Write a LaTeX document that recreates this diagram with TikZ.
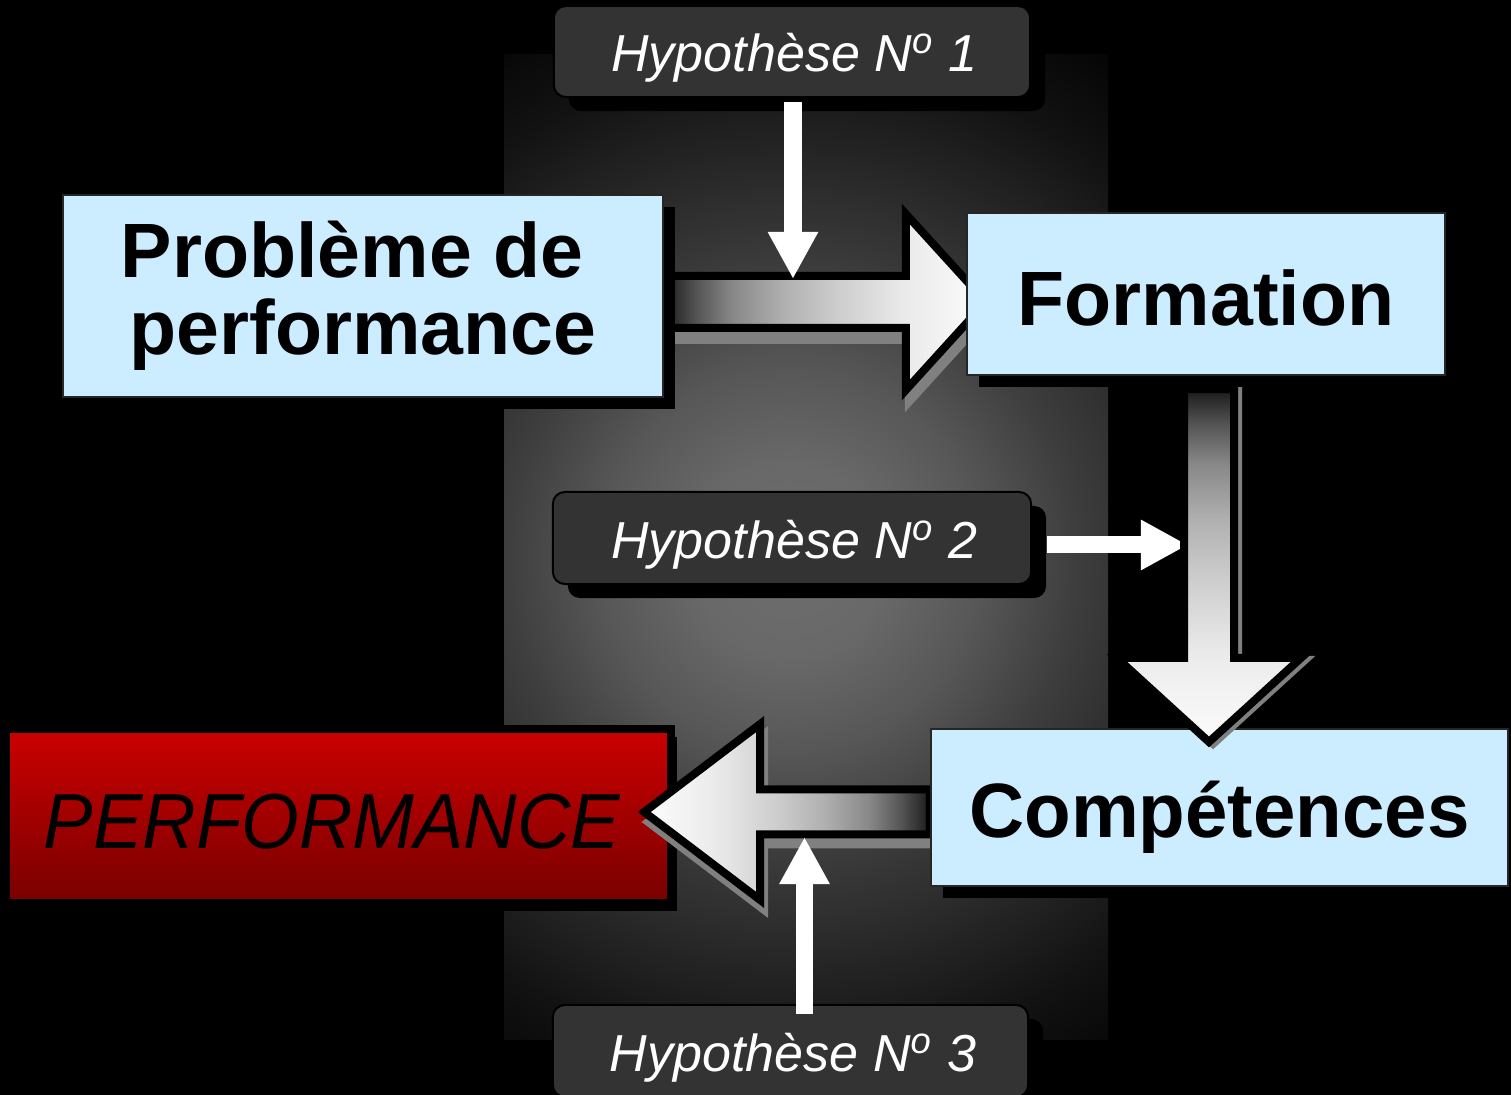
\documentclass[tikz,border=0pt]{standalone}
\usepackage{fontspec}
\setmainfont{Liberation Sans}
\usetikzlibrary{calc,shadows,arrows.meta}

\definecolor{boxblue}{HTML}{CCECFF}
\definecolor{hypgray}{HTML}{333333}
\definecolor{shadowgray}{HTML}{808080}
\definecolor{redtop}{HTML}{CC0000}
\definecolor{redbottom}{HTML}{780000}

\pgfdeclarelayer{panel}
\pgfdeclarelayer{redlayer}
\pgfdeclarelayer{lowarrows}
\pgfdeclarelayer{higharrows}
\pgfsetlayers{panel,redlayer,lowarrows,main,higharrows}

% soft glow of the central panel
\pgfdeclareradialshading{panelglow}{\pgfpoint{0bp}{0bp}}{%
  rgb(0bp)=(.43,.43,.43); rgb(4bp)=(.41,.41,.41); rgb(8bp)=(.34,.34,.34);
  rgb(12bp)=(.24,.24,.24); rgb(16.7bp)=(.15,.15,.15); rgb(21bp)=(.07,.07,.07);
  rgb(25bp)=(.02,.02,.02); rgb(50bp)=(0,0,0)}
% dark-to-white fade inside the block arrows
\pgfdeclarehorizontalshading{arrowfade}{100bp}{%
  rgb(0bp)=(.1,.1,.1); rgb(25bp)=(.1,.1,.1); rgb(30bp)=(.33,.33,.33);
  rgb(35.5bp)=(.53,.53,.53); rgb(43.5bp)=(.69,.69,.69); rgb(51.5bp)=(.8,.8,.8);
  rgb(62.5bp)=(.92,.92,.92); rgb(75bp)=(.99,.99,.99); rgb(100bp)=(.99,.99,.99)}

\newcommand\diagboxfont{\fontsize{0.77cm}{0.77cm}\selectfont\bfseries}
\newcommand\diaghypfont{\fontsize{0.52cm}{0.6cm}\selectfont\itshape}
\newcommand\diagperffont{\fontsize{0.78cm}{0.8cm}\selectfont\itshape}

\begin{document}
\begin{tikzpicture}[x=0.01cm, y=-0.01cm,
  bluebox/.style={draw=black!85, line width=0.02cm, fill=boxblue, inner sep=0pt,
    font=\diagboxfont, text=black,
    drop shadow={shadow xshift=0.12cm, shadow yshift=-0.12cm, fill=black, opacity=1}},
  hypbox/.style={rounded corners=0.12cm, draw=black, line width=0.02cm, fill=hypgray,
    text=white, font=\diaghypfont, inner sep=0pt, text height=0.41cm, text depth=0pt,
    drop shadow={shadow xshift=0.15cm, shadow yshift=-0.14cm, fill=black, opacity=1}},
  redbox/.style={draw=black, line width=0.08cm, top color=redtop, bottom color=redbottom,
    inner sep=0pt, font=\diagperffont, text=black,
    drop shadow={shadow xshift=0.06cm, shadow yshift=-0.08cm, fill=black, opacity=1}},
  bigarrow/.style={draw=black, line width=0.08cm, shade, shading=arrowfade},
  arrowshadow/.style={draw=shadowgray, fill=shadowgray, line width=0.08cm},
  smallarrow/.style={draw=white, line width=0.17cm,
    -{Triangle[width=0.47cm, length=0.47cm]}},
  harrow/.style n args={5}{insert path={
    ($(#1)+(0,{-(#3)})$) -- ($(#2)+({-(#5)},{-(#3)})$) -- ($(#2)+({-(#5)},{-(#4)})$)
    -- (#2) -- ($(#2)+({-(#5)},#4)$) -- ($(#2)+({-(#5)},#3)$) -- ($(#1)+(0,#3)$) -- cycle}},
  varrow/.style n args={5}{insert path={
    ($(#1)+({-(#3)},0)$) -- ($(#2)+({-(#3)},{-(#5)})$) -- ($(#2)+({-(#4)},{-(#5)})$)
    -- (#2) -- ($(#2)+(#4,{-(#5)})$) -- ($(#2)+(#3,{-(#5)})$) -- ($(#1)+(#3,0)$) -- cycle}}
]
\useasboundingbox (0,0) rectangle (1511,1095);

% black ground and the glowing central panel
\begin{pgfonlayer}{panel}
  \fill[black] (0,0) rectangle (1511,1095);
  \begin{scope}
    \clip (504,55) rectangle (1108,1040);
    \shade[shading=panelglow] (790,560) circle (600);
  \end{scope}
\end{pgfonlayer}

% boxes
\begin{pgfonlayer}{redlayer}
  \node[redbox, minimum width=6.65cm, minimum height=1.74cm, text height=0.64cm, text depth=0pt]
    (perf) at (338.5,816) {\scalebox{0.95}[1]{PERFORMANCE}\hspace*{0.13cm}};
\end{pgfonlayer}
\node[bluebox, minimum width=6cm, minimum height=2.02cm, align=center]
  (prob) at (363,296) {Problème de\hspace*{0.22cm}\\performance};
\node[bluebox, minimum width=4.78cm, minimum height=1.62cm, text height=0.62cm, text depth=0pt]
  (form) at (1206,294) {Formation};
\node[bluebox, minimum width=5.77cm, minimum height=1.57cm, text height=0.59cm, text depth=0pt]
  (comp) at (1219.5,807.5) {\scalebox{0.99}[1]{Compétences}};
\node[hypbox, minimum width=4.76cm, minimum height=0.91cm] (hypA) at (792,51.5)
  {\hspace*{0.05cm}Hypothèse N\textsuperscript{o}~1};
\node[hypbox, minimum width=4.78cm, minimum height=0.92cm] (hypB) at (792,538)
  {\hspace*{0.05cm}Hypothèse N\textsuperscript{o}~2};
\node[hypbox, minimum width=4.75cm, minimum height=0.92cm] (hypC) at (790.5,1051)
  {\hspace*{0.05cm}Hypothèse N\textsuperscript{o}~3};

% ends of the block arrows
\coordinate (a1s) at ($(prob.east)+(0,6)$);
\coordinate (a1t) at ($(form.west)+(20,8)$);
\coordinate (a2s) at ($(form.south)+(3,13)$);
\coordinate (a2t) at ($(comp.north)+(-10.5,14)$);
\coordinate (a3s) at ($(comp.west)+(0,4.5)$);
\coordinate (a3t) at ($(perf.east)+(-31,-4)$);

% tips of the hypothesis arrows
\coordinate (h1tip) at ($(hypA.south |- a1s)+(1,-23)$);
\coordinate (h2tip) at ($(a2s |- hypB.east)+(-21,7)$);
\coordinate (h3tip) at ($(hypC.north |- a3s)+(14,25)$);

% block arrows: Probleme -> Formation and Competences -> PERFORMANCE
\begin{pgfonlayer}{lowarrows}
  \path[arrowshadow, transform canvas={xshift=0.03cm, yshift=-0.12cm},
    harrow={a1s}{a1t}{26}{88}{80}];
  \path[bigarrow, shading angle=0, harrow={a1s}{a1t}{26}{88}{80}];
  \path[arrowshadow, transform canvas={xshift=0.04cm, yshift=-0.10cm},
    harrow={a3s}{a3t}{22.5}{88}{-116}];
  \path[bigarrow, shading angle=180, harrow={a3s}{a3t}{22.5}{88}{-116}];
\end{pgfonlayer}

% block arrow Formation -> Competences
\begin{pgfonlayer}{higharrows}
  \path[arrowshadow, transform canvas={xshift=0.04cm, yshift=-0.02cm},
    varrow={a2s}{a2t}{25}{92}{84}];
  \path[bigarrow, shading angle=-90, varrow={a2s}{a2t}{25}{92}{84}];
\end{pgfonlayer}

% hypothesis arrows
\draw[smallarrow] ($(hypA.south)+(1,4)$) -- (h1tip);
\draw[smallarrow] ($(hypB.east)+(15,7)$) -- (h2tip);
\draw[smallarrow] ($(hypC.north)+(14,10)$) -- (h3tip);
\end{tikzpicture}
\end{document}
